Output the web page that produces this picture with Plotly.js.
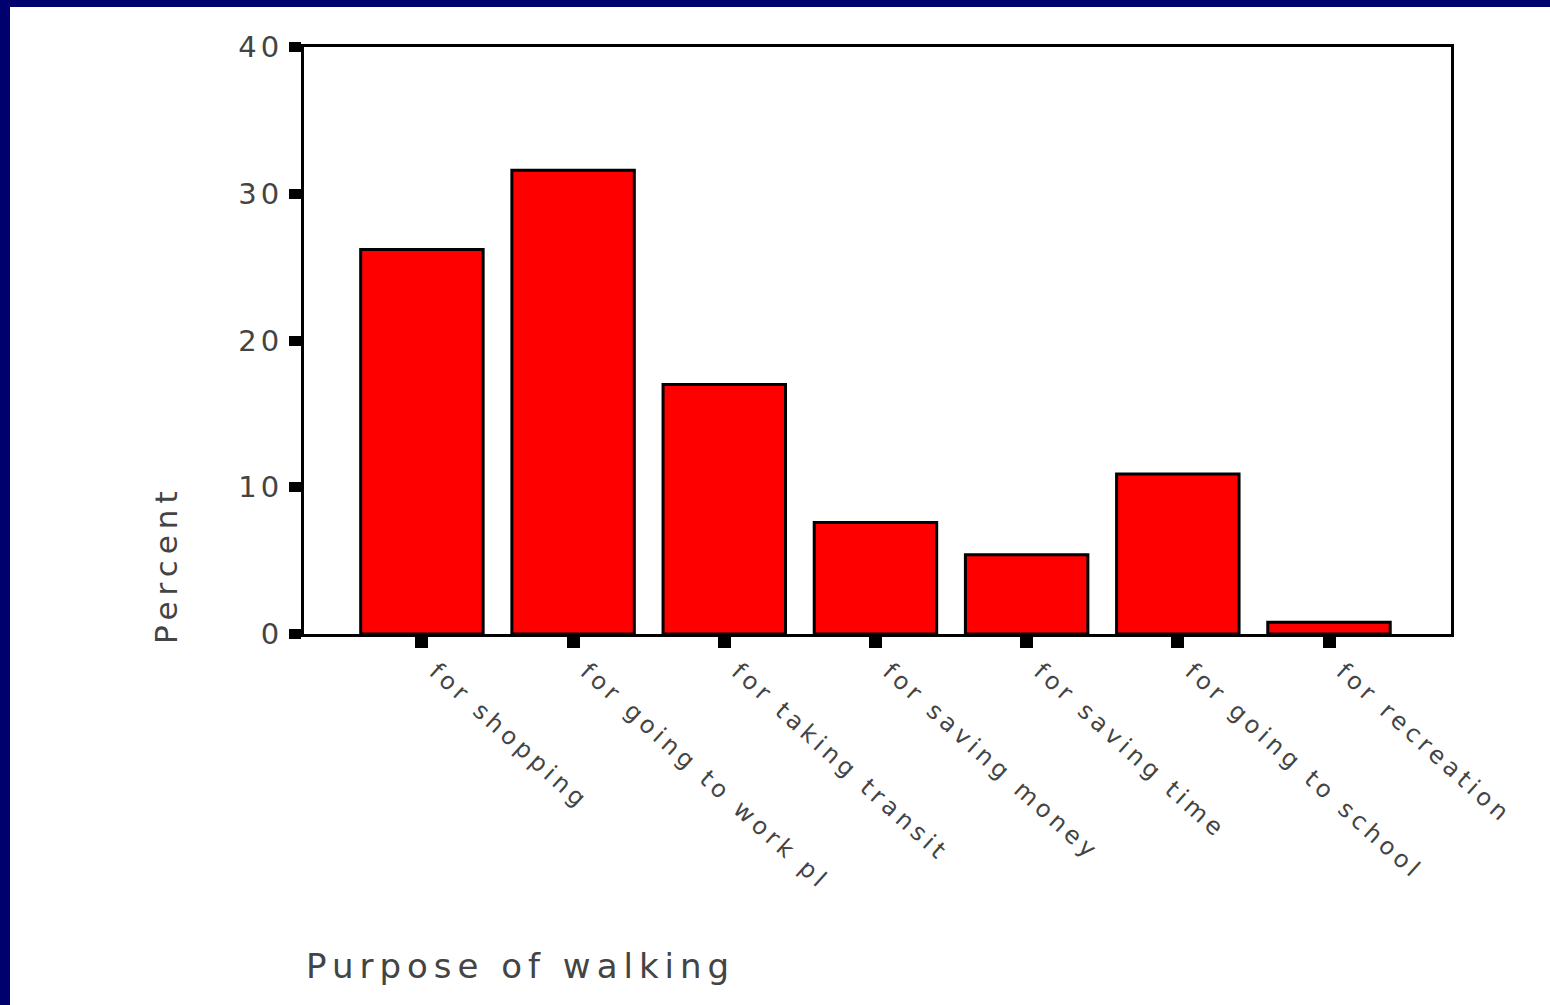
<!DOCTYPE html>
<html>
<head>
<meta charset="utf-8">
<script src="https://cdn.plot.ly/plotly-3.0.1.min.js"></script>
<style>
  html, body { margin: 0; padding: 0; background: #00006e; width: 1550px; height: 1005px; overflow: hidden; }
  #chart { position: absolute; left: 10px; top: 7px; width: 1540px; height: 998px; background: #ffffff; }
  .ytick text { letter-spacing: 4px; }
  .xtick text { letter-spacing: 4.5px; }
  .annotation-text { letter-spacing: 6px; }
</style>
</head>
<body>
<div id="chart"></div>
<script>
// Data
const categories = [
  "for shopping",
  "for going to work pl",
  "for taking transit",
  "for saving money",
  "for saving time",
  "for going to school",
  "for recreation"
];
const percentValues = [26.2, 31.6, 17.0, 7.6, 5.4, 10.9, 0.8];
const yTickValues = [0, 10, 20, 30, 40];
const yTickLabels = ["0", "10", "20", "30", "40"];
const xAxisTitle = "Purpose of walking";
const yAxisTitle = "Percent";

const trace = {
  type: "bar",
  x: categories,
  y: percentValues,
  width: 0.81,
  marker: { color: "#ff0000", line: { color: "#000000", width: 3 } },
  hoverinfo: "x+y"
};

const layout = {
  width: 1540,
  height: 998,
  margin: { l: 294, r: 99, t: 40, b: 371, pad: 0 },
  paper_bgcolor: "#ffffff",
  plot_bgcolor: "#ffffff",
  showlegend: false,
  font: { family: "DejaVu Sans, sans-serif", color: "#444444" },
  xaxis: {
    type: "category",
    range: [-0.78, 6.807],
    showgrid: false,
    zeroline: false,
    showline: true,
    linecolor: "#000000",
    linewidth: 3,
    mirror: true,
    ticks: "outside",
    ticklen: 11,
    tickwidth: 13,
    tickcolor: "#000000",
    tickangle: 42,
    ticklabelshift: 14,
    tickfont: { family: "DejaVu Sans, sans-serif", size: 24, color: "#444444" },
    automargin: false
  },
  yaxis: {
    range: [0, 40],
    tickvals: yTickValues,
    ticktext: yTickLabels,
    showgrid: false,
    zeroline: false,
    showline: true,
    linecolor: "#000000",
    linewidth: 3,
    mirror: true,
    ticks: "outside",
    ticklen: 12,
    tickwidth: 10,
    tickcolor: "#000000",
    ticklabelstandoff: 0,
    tickfont: { family: "DejaVu Sans, sans-serif", size: 29, color: "#444444" },
    automargin: false
  },
  annotations: [
    {
      text: yAxisTitle,
      xref: "paper", yref: "paper",
      x: -0.1203, y: 0.1175,
      xanchor: "center", yanchor: "middle",
      textangle: -90,
      showarrow: false,
      font: { family: "DejaVu Sans, sans-serif", size: 31, color: "#444444" }
    },
    {
      text: xAxisTitle,
      xref: "paper", yref: "paper",
      x: 0.0, y: -0.5656,
      xanchor: "left", yanchor: "middle",
      showarrow: false,
      font: { family: "DejaVu Sans, sans-serif", size: 34, color: "#444444" }
    }
  ]
};

Plotly.newPlot("chart", [trace], layout, { displayModeBar: false, staticPlot: true });
</script>
</body>
</html>
